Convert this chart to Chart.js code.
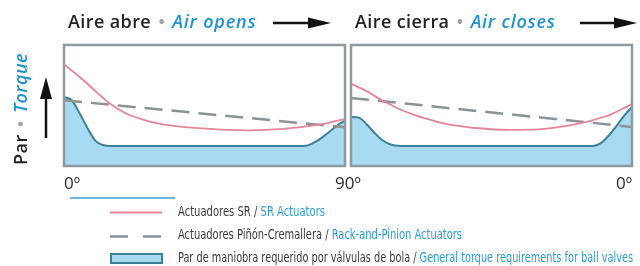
<!DOCTYPE html>
<html lang="es">
<head>
<meta charset="utf-8">
<title>Par / Torque</title>
<script src="https://cdn.jsdelivr.net/npm/chart.js@4.4.1/dist/chart.umd.min.js"></script>
<style>
  html, body { margin: 0; padding: 0; background: #fff; }
  body { width: 640px; height: 266px; position: relative; overflow: hidden; font-family: "Open Sans", sans-serif; }
  #torqueChart { position: absolute; left: 0; top: 0; }
  .title { position: absolute; top: 12px; font-size: 18px; line-height: 18px; font-weight: 600; color: #222;
           white-space: nowrap; letter-spacing: 0.4px; }
  .title em, .ylabel em { color: #1f93d2; font-style: italic; }
  .title em { letter-spacing: 0.8px; }
  .dot { color: #a3a3a3; margin: 0 7px; }
  .ylabel { position: absolute; left: 20px; top: 109px; font-size: 18px; line-height: 18px; font-weight: 600; color: #222;
            white-space: nowrap; letter-spacing: 0.4px; transform: translate(-50%, -50%) rotate(-90deg); }
  .ylabel .dot { margin: 0 2px; }
  #arrows { position: absolute; left: 0; top: 0; }
  .deco { position: absolute; left: 70px; top: 197px; width: 105px; height: 2px; background: #6db7e0; }
  .legend-text { position: absolute; left: 178px; font-family: "Liberation Sans Narrow", "DejaVu Sans Condensed", sans-serif;
                 font-size: 14px; line-height: 14px; color: #3a3a3a; white-space: nowrap; transform-origin: 0 50%; }
  .legend-text span { color: #2d9bd8; }
</style>
</head>
<body>
<canvas id="torqueChart" width="640" height="266"></canvas>

<div class="title" style="left:68px">Aire abre<span class="dot">•</span><em>Air opens</em></div>
<div class="title" style="left:355px">Aire cierra<span class="dot">•</span><em>Air closes</em></div>
<div class="ylabel">Par <span class="dot">•</span> <em>Torque</em></div>

<svg id="arrows" width="640" height="266">
  <line x1="273" y1="23" x2="312" y2="23" stroke="#111" stroke-width="2.5"/>
  <polygon points="331,23 308,17.5 308,28.5" fill="#111"/>
  <line x1="580" y1="23" x2="618" y2="23" stroke="#111" stroke-width="2.5"/>
  <polygon points="637,23 614,17.5 614,28.5" fill="#111"/>
  <line x1="46" y1="138" x2="46" y2="95" stroke="#111" stroke-width="2.5"/>
  <polygon points="46,77 40,99 52,99" fill="#111"/>
  <!-- 凡例マーカー -->
  <line x1="110" y1="212.5" x2="162" y2="212.5" stroke="#e6849c" stroke-width="2"/>
  <line x1="110" y1="236.5" x2="162" y2="236.5" stroke="#8c9194" stroke-width="2.5" stroke-dasharray="18 15"/>
  <rect x="111" y="254" width="51" height="9" fill="#a8dbf2" stroke="#3d7f96" stroke-width="2"/>
</svg>

<div class="deco"></div>
<div class="legend-text" style="top:204px">Actuadores SR / <span>SR Actuators</span></div>
<div class="legend-text" style="top:227px">Actuadores Piñón-Cremallera / <span>Rack-and-Pinion Actuators</span></div>
<div class="legend-text" style="top:250px">Par de maniobra requerido por válvulas de bola / <span>General torque requirements for ball valves</span></div>

<script>
// 角度（各パネル内の進行 0〜90°）
const angles = [0, 2.5, 5, 7.5, 10, 12.5, 15, 20, 25, 30, 35, 40, 50, 60, 70, 75, 77.5, 80, 82.5, 85, 87.5, 90];

// Aire abre / Air opens
const srOpen    = [83.9, 78.8, 73.6, 68, 62, 56.2, 51, 43.2, 38.6, 35.2, 33.2, 31.9, 30.1, 29.5, 30.6, 32, 32.8, 33.6, 34.5, 35.9, 37.4, 38.8];
const valveOpen = [57, 54.3, 43.5, 31.5, 21, 17.3, 16.5, 16.5, 16.5, 16.5, 16.5, 16.5, 16.5, 16.5, 16.5, 16.5, 16.7, 19.3, 23.3, 28.3, 33.5, 37.5];

// Aire cierra / Air closes
const srClose    = [68, 65, 61.9, 58, 54, 51, 47.5, 42.5, 38.5, 35, 33, 31.4, 29.8, 30.2, 33.5, 36.2, 38, 39.9, 41.8, 44.8, 48, 51.2];
const valveClose = [40.5, 40, 34.5, 27.5, 21.5, 18, 16.8, 16.5, 16.5, 16.5, 16.5, 16.5, 16.5, 16.5, 16.5, 16.5, 16.5, 18.9, 25, 33, 41.6, 48.8];

// piñón-cremallera（直線）
const rpAngles = [0, 90];
const rpOpen   = [54.3, 32];
const rpClose  = [56.2, 32.3];

// 目盛りラベル
const tickLabels = ['0º', '90º', '0º'];

// パネル間の隙間（度）
const GAP = 1.9;
const CLOSE_START = 90 + GAP;
const tickValues = [0, 90 + GAP / 2, CLOSE_START + 90];

// 凡例テキストの幅（px）
const legendWidths = [147, 284, 455];

const toPoints = (xs, ys, offset) => xs.map((x, i) => ({ x: x + offset, y: ys[i] }));

const SR_COLOR = '#e6849c';
const RP_COLOR = '#8c9194';
const VALVE_LINE = '#3d7f96';
const VALVE_FILL = '#a8dbf2';

function srDataset(data) {
  return { data, borderColor: SR_COLOR, borderWidth: 1.8, pointRadius: 0, fill: false, cubicInterpolationMode: 'monotone' };
}
function rpDataset(data) {
  return { data, borderColor: RP_COLOR, borderWidth: 2.5, borderDash: [18, 9], pointRadius: 0, fill: false };
}
function valveDataset(data) {
  return { data, borderColor: VALVE_LINE, backgroundColor: VALVE_FILL, borderWidth: 2, pointRadius: 0,
           fill: 'origin', cubicInterpolationMode: 'monotone' };
}

// パネル枠
const panelFrames = {
  id: 'panelFrames',
  afterDatasetsDraw(chart) {
    const { ctx, chartArea, scales } = chart;
    ctx.save();
    ctx.strokeStyle = '#8e9a9d';
    ctx.lineWidth = 2.5;
    [[0, 90], [CLOSE_START, CLOSE_START + 90]].forEach(([a, b]) => {
      const x1 = scales.x.getPixelForValue(a);
      const x2 = scales.x.getPixelForValue(b);
      ctx.strokeRect(x1, chartArea.top, x2 - x1, chartArea.bottom - chartArea.top);
    });
    ctx.restore();
  }
};

document.addEventListener('DOMContentLoaded', () => {
  // 凡例テキストを横方向に合わせる
  document.querySelectorAll('.legend-text').forEach((el, i) => {
    const w = el.getBoundingClientRect().width;
    if (w > 0) el.style.transform = 'scaleX(' + (legendWidths[i] / w) + ')';
  });

  const ctx = document.getElementById('torqueChart');

  new Chart(ctx, {
    type: 'line',
    data: {
      datasets: [
        srDataset(toPoints(angles, srOpen, 0)),
        srDataset(toPoints(angles, srClose, CLOSE_START)),
        rpDataset(toPoints(rpAngles, rpOpen, 0)),
        rpDataset(toPoints(rpAngles, rpClose, CLOSE_START)),
        valveDataset(toPoints(angles, valveOpen, 0)),
        valveDataset(toPoints(angles, valveClose, CLOSE_START))
      ]
    },
    options: {
      responsive: false,
      animation: false,
      layout: { padding: { left: 64, right: 2, top: 45, bottom: 70 } },
      plugins: {
        legend: { display: false },
        tooltip: { enabled: false }
      },
      scales: {
        x: {
          type: 'linear',
          min: 0,
          max: CLOSE_START + 90,
          afterBuildTicks: (scale) => {
            scale.ticks = tickValues.map(v => ({ value: v }));
          },
          afterFit: (scale) => {
            scale.height = 30;
          },
          grid: { display: false, drawTicks: false },
          border: { display: false },
          ticks: {
            align: 'inner',
            maxRotation: 0,
            autoSkip: false,
            padding: 8,
            color: '#2a2a2a',
            font: { family: 'Open Sans', size: 17, weight: 400 },
            callback: (value, index) => tickLabels[index]
          }
        },
        y: {
          display: false,
          min: 0,
          max: 100
        }
      }
    },
    plugins: [panelFrames]
  });
});
</script>
</body>
</html>
